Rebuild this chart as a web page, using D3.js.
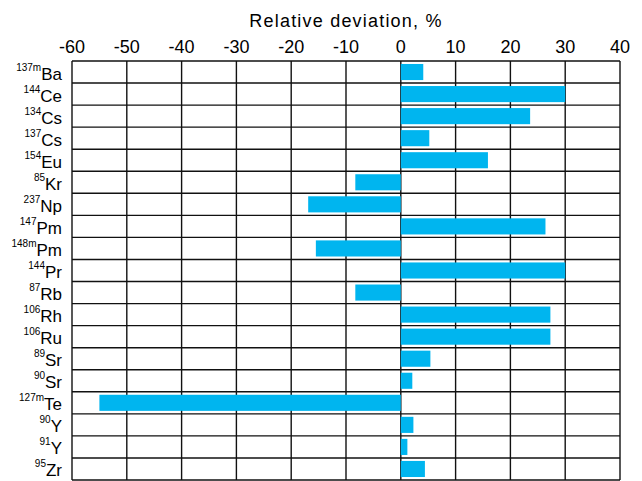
<!DOCTYPE html>
<html>
<head>
<meta charset="utf-8">
<script src="https://cdn.jsdelivr.net/npm/d3@7/dist/d3.min.js"></script>
<style>
  html, body { margin: 0; padding: 0; background: #fff; }
  svg { display: block; font-family: "Liberation Sans", Arial, sans-serif; }
</style>
</head>
<body>
<svg id="chart" width="642" height="481"></svg>
<script>
// Nuclide labels: mass number (superscript) and element symbol
const massNumbers = ["137m", "144", "134", "137", "154", "85", "237", "147", "148m", "144", "87", "106", "106", "89", "90", "127m", "90", "91", "95"];
const elements    = ["Ba", "Ce", "Cs", "Cs", "Eu", "Kr", "Np", "Pm", "Pm", "Pr", "Rb", "Rh", "Ru", "Sr", "Sr", "Te", "Y", "Y", "Zr"];
// Relative deviation, %
const deviations  = [4.1, 30, 23.6, 5.2, 15.9, -8.3, -16.9, 26.4, -15.5, 30, -8.3, 27.3, 27.3, 5.4, 2.1, -55, 2.3, 1.2, 4.4];
const xTicks      = [-60, -50, -40, -30, -20, -10, 0, 10, 20, 30, 40];

const svg = d3.select("#chart");
const plotLeft = 72, plotRight = 620, plotTop = 61, plotBottom = 480;

const x = d3.scaleLinear().domain([-60, 40]).range([plotLeft, plotRight]);
const y = d3.scaleBand().domain(d3.range(elements.length)).range([plotTop, plotBottom]).paddingInner(0.27).paddingOuter(0.135);
const rowY = d3.scaleLinear().domain([0, elements.length]).range([plotTop, plotBottom]);

// Title
svg.append("text")
  .attr("x", 346).attr("y", 27)
  .attr("text-anchor", "middle")
  .attr("font-size", 18)
  .attr("letter-spacing", 1.2)
  .attr("fill", "#000")
  .text("Relative deviation, %");

// Top axis labels
svg.append("g")
  .selectAll("text")
  .data(xTicks)
  .join("text")
  .attr("x", d => x(d))
  .attr("y", 52.5)
  .attr("text-anchor", "middle")
  .attr("font-size", 18)
  .attr("fill", "#000")
  .text(d => d);

// Grid: vertical lines at ticks, horizontal lines at row boundaries
const grid = svg.append("g").attr("stroke", "#111").attr("stroke-width", 1.4);
grid.selectAll("line.v")
  .data(xTicks)
  .join("line")
  .attr("class", "v")
  .attr("x1", d => x(d)).attr("x2", d => x(d))
  .attr("y1", plotTop).attr("y2", plotBottom);
grid.selectAll("line.h")
  .data(d3.range(elements.length + 1))
  .join("line")
  .attr("class", "h")
  .attr("x1", plotLeft).attr("x2", plotRight)
  .attr("y1", d => rowY(d)).attr("y2", d => rowY(d));

// Bars
svg.append("g")
  .selectAll("rect")
  .data(deviations)
  .join("rect")
  .attr("x", d => x(Math.min(0, d)))
  .attr("width", d => Math.abs(x(d) - x(0)))
  .attr("y", (d, i) => y(i))
  .attr("height", y.bandwidth())
  .attr("fill", "#00b5ef");

// Row labels with superscript mass numbers
const labels = svg.append("g")
  .selectAll("text")
  .data(elements)
  .join("text")
  .attr("x", 62)
  .attr("y", (d, i) => rowY(i + 0.5) + 7.5)
  .attr("text-anchor", "end")
  .attr("fill", "#000");
labels.append("tspan")
  .attr("font-size", 10)
  .attr("dy", -9)
  .text((d, i) => massNumbers[i]);
labels.append("tspan")
  .attr("font-size", 17)
  .attr("dy", 9)
  .text(d => d);
</script>
</body>
</html>
